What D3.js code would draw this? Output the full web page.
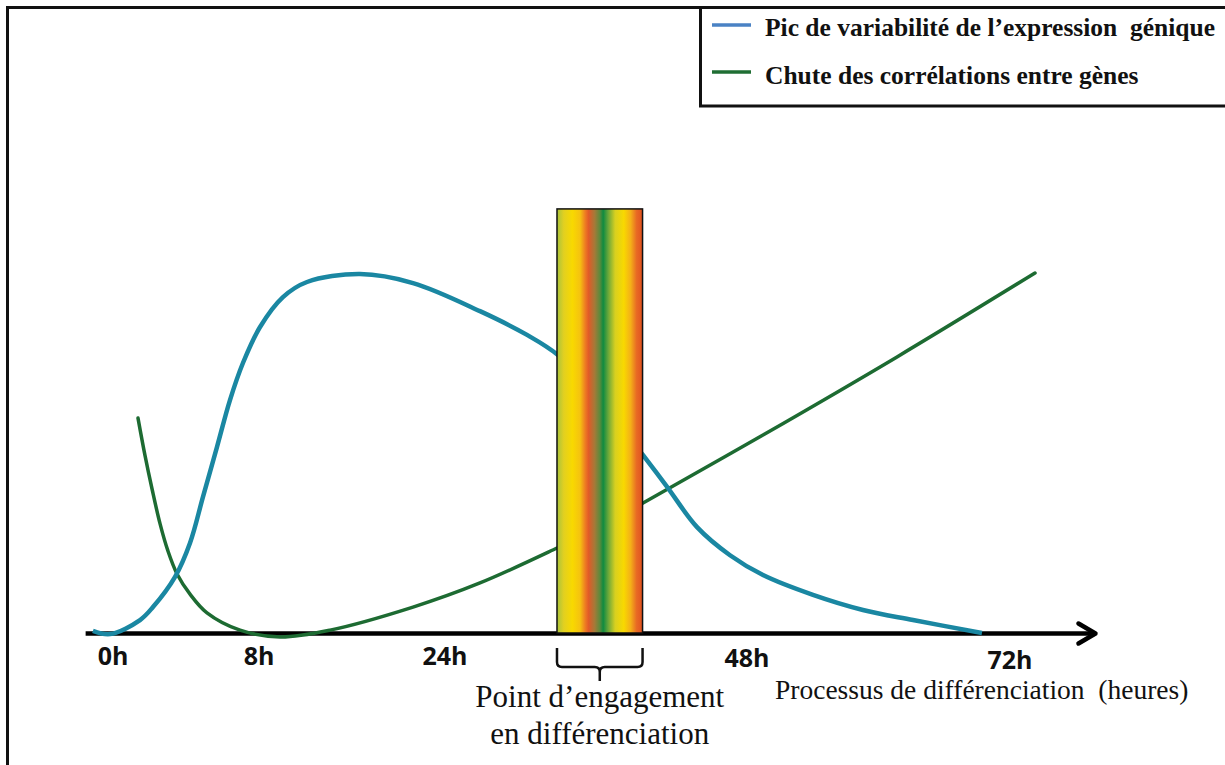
<!DOCTYPE html>
<html lang="fr">
<head>
<meta charset="UTF-8">
<title>Différenciation</title>
<style>
  html, body { margin: 0; padding: 0; background: #fff; }
  svg { display: block; }
  .serif { font-family: "Liberation Serif", "DejaVu Serif", serif; fill: #111; }
  .tick-label { font-family: "Open Sans", "DejaVu Sans", sans-serif; font-weight: 700; font-size: 25px; fill: #111; }
</style>
</head>
<body>
<svg id="chart"></svg>
<script src="https://cdnjs.cloudflare.com/ajax/libs/d3/7.8.5/d3.min.js"></script>
<script>
// ---- data (x in hours, y in arbitrary units 0..100) ----
const tickHours = [0, 8, 24, 48, 72];
const tickLabels = ["0h", "8h", "24h", "48h", "72h"];

// Pic de variabilité de l'expression génique
const blueHours  = [-1.1, -0.16, 1.48, 2.19, 3.4, 4.22, 4.93, 5.7, 6.41, 7.12, 8.09, 10.06, 12.13, 16.69, 21.25, 26.78, 30.52, 32.98, 36.3, 39.74, 41.65, 44.03, 46.65, 49.46, 54.02, 58.58, 63.15, 69.44];
const blueValues = [0.6, -0.3, 3.6, 7.2, 15.6, 25.0, 37.8, 51.7, 64.7, 75.0, 85.0, 93.3, 97.5, 99.7, 97.2, 89.4, 82.8, 77.2, 65.3, 49.4, 40.6, 29.4, 21.6, 16.1, 10.6, 6.4, 3.6, 0];

// Chute des corrélations entre gènes
const greenHours  = [1.37, 1.75, 2.14, 2.58, 3.01, 3.51, 4.22, 5.15, 6.96, 9.81, 14.11, 21.25, 26.78, 32.9, 36.3, 39.74, 49.46, 61.69, 74.28];
const greenValues = [59.7, 49.4, 40.0, 30.3, 22.8, 16.4, 10.8, 5.6, 0.8, -1.1, 0.8, 7.2, 13.9, 23.6, 29.4, 36.1, 55.0, 76.7, 100];

// point d'engagement (fenêtre en heures) et hauteur du bandeau
const commitWindow = [32.9, 39.7];
const commitTop = 117.8;
const axisExtent = [-1.5, 79.8];

const legendItems = ["Pic de variabilité de l’expression  génique", "Chute des corrélations entre gènes"];
const legendColors = ["#4a82c4", "#1f6e33"];
const seriesColors = ["#1a87a2", "#1d6b32"];

// ---- setup ----
const width = 1225, height = 765;
const svg = d3.select("#chart").attr("width", width).attr("height", height);

// axis is not linear in the original drawing: piecewise scale
const x = d3.scaleLinear().domain(tickHours).range([113, 259, 445, 747, 1010]);
const y = d3.scaleLinear().domain([0, 100]).range([633, 273]);

// gradient for the commitment band
const grad = svg.append("defs").append("linearGradient")
  .attr("id", "band").attr("x1", "0%").attr("x2", "100%").attr("y1", "0%").attr("y2", "0%");
[
  [0, "#a9c43c"], [0.08, "#e2d020"], [0.18, "#f8d900"], [0.27, "#f5c210"],
  [0.33, "#ee7c22"], [0.37, "#e15a28"], [0.44, "#a47a38"], [0.5, "#5c8a3c"],
  [0.54, "#0f8b40"], [0.6, "#6ca83a"], [0.68, "#d8d020"], [0.78, "#f8d900"],
  [0.86, "#f4b018"], [0.93, "#e86a24"], [1, "#e05020"]
].forEach(s => grad.append("stop").attr("offset", s[0]).attr("stop-color", s[1]));

// outer frame (only left and top visible)
svg.append("path")
  .attr("d", "M7.5,765 L7.5,7.5 L1225,7.5")
  .attr("fill", "none").attr("stroke", "#111").attr("stroke-width", 3);

// legend box
svg.append("path")
  .attr("d", "M700.5,7.5 L700.5,106 L1225,106")
  .attr("fill", "none").attr("stroke", "#111").attr("stroke-width", 3);

const legend = svg.append("g");
legendItems.forEach((t, i) => {
  legend.append("line")
    .attr("x1", 712).attr("x2", 751)
    .attr("y1", 25 + i * 47).attr("y2", 25 + i * 47)
    .attr("stroke", legendColors[i]).attr("stroke-width", 3.5);
  legend.append("text")
    .attr("class", "serif")
    .attr("x", 765).attr("y", 36 + i * 48)
    .attr("font-size", 25.5).attr("font-weight", 700)
    .style("white-space", "pre")
    .text(t);
});

// x axis line with arrow
const axisY = 633.5;
svg.append("line")
  .attr("x1", x(axisExtent[0])).attr("x2", x(axisExtent[1]) - 2)
  .attr("y1", axisY).attr("y2", axisY)
  .attr("stroke", "#000").attr("stroke-width", 4.5);
const tip = x(axisExtent[1]);
svg.append("path")
  .attr("d", `M${tip - 17},${axisY - 10} L${tip},${axisY} L${tip - 17},${axisY + 10}`)
  .attr("fill", "none").attr("stroke", "#000").attr("stroke-width", 4.5)
  .attr("stroke-linecap", "round").attr("stroke-linejoin", "round");

// tick labels
const tickDy = [0, 0, 0, 2, 4];
svg.append("g").selectAll("text")
  .data(tickHours)
  .join("text")
  .attr("class", "tick-label")
  .attr("x", d => x(d))
  .attr("y", (d, i) => 665 + tickDy[i])
  .attr("text-anchor", "middle")
  .text((d, i) => tickLabels[i]);

// curves
const line = d3.line()
  .x(d => x(d[0]))
  .y(d => y(d[1]))
  .curve(d3.curveCatmullRom.alpha(0.5));

svg.append("path")
  .datum(greenHours.map((h, i) => [h, greenValues[i]]))
  .attr("d", line)
  .attr("fill", "none").attr("stroke", seriesColors[1]).attr("stroke-width", 3.5)
  .attr("stroke-linecap", "round");

svg.append("path")
  .datum(blueHours.map((h, i) => [h, blueValues[i]]))
  .attr("d", line)
  .attr("fill", "none").attr("stroke", seriesColors[0]).attr("stroke-width", 4.5);

// commitment band
svg.append("rect")
  .attr("x", x(commitWindow[0]))
  .attr("y", y(commitTop))
  .attr("width", x(commitWindow[1]) - x(commitWindow[0]))
  .attr("height", y(0) - y(commitTop))
  .attr("fill", "url(#band)")
  .attr("stroke", "#111").attr("stroke-width", 1.5);

// brace under the band
const bx0 = x(commitWindow[0]), bx1 = x(commitWindow[1]), bm = (bx0 + bx1) / 2;
svg.append("path")
  .attr("d", `M${bx0},648 L${bx0},662 Q${bx0},667 ${bx0 + 5},667 L${bm - 5},667 Q${bm},667 ${bm},672 L${bm},681
              M${bm},672 Q${bm},667 ${bm + 5},667 L${bx1 - 5},667 Q${bx1},667 ${bx1},662 L${bx1},648`)
  .attr("fill", "none").attr("stroke", "#111").attr("stroke-width", 2.5);

// annotations
svg.append("text").attr("class", "serif")
  .attr("x", bm).attr("y", 707).attr("text-anchor", "middle")
  .attr("font-size", 31)
  .text("Point d’engagement");
svg.append("text").attr("class", "serif")
  .attr("x", bm).attr("y", 744).attr("text-anchor", "middle")
  .attr("font-size", 31)
  .text("en différenciation");

svg.append("text").attr("class", "serif")
  .attr("x", 775).attr("y", 699)
  .attr("font-size", 27.5)
  .style("white-space", "pre")
  .text("Processus de différenciation  (heures)");
</script>
</body>
</html>
